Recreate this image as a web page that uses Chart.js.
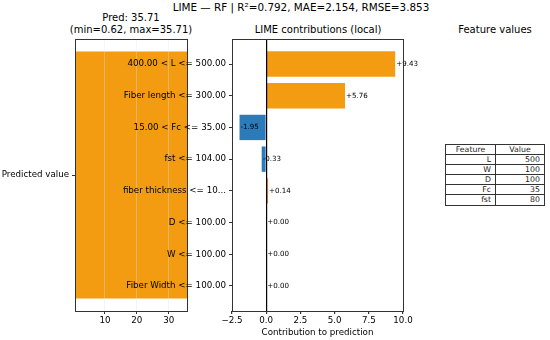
<!DOCTYPE html>
<html>
<head>
<meta charset="utf-8">
<script src="https://cdn.jsdelivr.net/npm/chart.js@4.4.1/dist/chart.umd.min.js"></script>
<style>
  html, body { margin: 0; padding: 0; background: #fff; }
  body { position: relative; width: 550px; height: 340px; overflow: hidden; font-family: "DejaVu Sans", sans-serif; color: #000; }
  canvas { position: absolute; top: 0; }
  .txt { position: absolute; white-space: nowrap; transform: translateX(-50%); line-height: 1; }
  #values { position: absolute; left: 445px; top: 144px; width: 99px; border-collapse: collapse; table-layout: fixed; font-size: 7.8px; color: #222; }
  #values td { border: 1px solid #333; padding: 0 4px 0 0; height: 9.1px; line-height: 1; text-align: right; }
  #values tr:first-child td { text-align: center; padding: 0; }
</style>
</head>
<body>
<div class="txt" id="mainTitle" style="left:301px; top:2px; font-size:10.4px;"></div>
<div class="txt" id="predTitle" style="left:131px; top:13px; font-size:10px;"></div>
<div class="txt" id="rangeTitle" style="left:131px; top:25px; font-size:10px;"></div>
<div class="txt" style="left:318px; top:25px; font-size:10px;">LIME contributions (local)</div>
<div class="txt" style="left:495px; top:25px; font-size:10px;">Feature values</div>

<canvas id="predChart" width="200" height="340" style="left:0px;"></canvas>
<canvas id="limeChart" width="330" height="340" style="left:100px;"></canvas>

<table id="values"></table>

<script>
// model metrics shown in the title
const r2 = 0.792;
const mae = 2.154;
const rmse = 3.853;

// left panel: predicted value
const predLabels = ['Predicted value'];
const predValues = [35.71];
const predMin = 0.62;
const predMax = 35.71;
const predTicks = [10, 20, 30];

// right panel: LIME contributions
const featureLabels = [
    '400.00 < L <= 500.00',
    'Fiber length <= 300.00',
    '15.00 < Fc <= 35.00',
    'fst <= 104.00',
    'fiber thickness <= 10...',
    'D <= 100.00',
    'W <= 100.00',
    'Fiber Width <= 100.00'
];
const contributions = [9.43, 5.76, -1.95, -0.33, 0.14, 0.00, 0.00, 0.00];
const contribTicks = [-2.5, 0, 2.5, 5, 7.5, 10];

// feature values table
const tableFeatures = ['L', 'W', 'D', 'Fc', 'fst'];
const tableValues = [500, 100, 100, 35, 80];

const ORANGE = '#f39c12';
const BLUE = '#2b7bba';
const SPINE = '#333';

Chart.defaults.font.family = '"DejaVu Sans", sans-serif';
Chart.defaults.color = '#000';

document.getElementById('mainTitle').textContent =
    'LIME \u2014 RF | R\u00b2=' + r2.toFixed(3) + ', MAE=' + mae.toFixed(3) + ', RMSE=' + rmse.toFixed(3);
document.getElementById('predTitle').textContent = 'Pred: ' + predValues[0].toFixed(2);
document.getElementById('rangeTitle').textContent =
    '(min=' + predMin.toFixed(2) + ', max=' + predMax.toFixed(2) + ')';

// table
const table = document.getElementById('values');
let html = '<colgroup><col style="width:50px"><col style="width:49px"></colgroup>';
html += '<tr><td>Feature</td><td>Value</td></tr>';
tableFeatures.forEach((f, i) => {
    html += '<tr><td>' + f + '</td><td>' + tableValues[i] + '</td></tr>';
});
table.innerHTML = html;

// draw all four spines on top
const frame = {
    id: 'frame',
    afterDraw(chart) {
        const { ctx, chartArea: a } = chart;
        ctx.save();
        ctx.strokeStyle = SPINE;
        ctx.lineWidth = 1;
        ctx.strokeRect(Math.round(a.left) + 0.5, Math.round(a.top) + 0.5,
            Math.round(a.right - a.left), Math.round(a.bottom - a.top));
        ctx.restore();
    }
};

const valueLabels = {
    id: 'valueLabels',
    afterDatasetsDraw(chart) {
        const { ctx, scales: { x, y } } = chart;
        ctx.save();
        ctx.font = '7.1px "DejaVu Sans"';
        ctx.fillStyle = '#000';
        ctx.textAlign = 'left';
        ctx.textBaseline = 'middle';
        contributions.forEach((v, i) => {
            const txt = (v >= 0 ? '+' : '') + v.toFixed(2);
            ctx.fillText(txt, x.getPixelForValue(v) + 1, y.getPixelForValue(i));
        });
        ctx.restore();
    }
};

const tickFont = { size: 8.7 };
const fmtMinus = (v) => String(v).replace('-', '\u2212');

new Chart(document.getElementById('predChart'), {
    type: 'bar',
    data: {
        datasets: [{
            data: predValues.map((v, i) => ({ x: v, y: i })),
            backgroundColor: ORANGE,
            borderWidth: 0,
            categoryPercentage: 1,
            barPercentage: 0.909
        }]
    },
    options: {
        indexAxis: 'y',
        responsive: false,
        animation: false,
        layout: { padding: { top: 39, right: 13, left: 0, bottom: 0 } },
        plugins: { legend: { display: false }, tooltip: { enabled: false } },
        scales: {
            x: {
                type: 'linear',
                bounds: 'data',
                min: predMin,
                max: predMax,
                afterBuildTicks: (s) => { s.ticks = predTicks.map(v => ({ value: v })); },
                afterFit: (s) => { s.height = 29; },
                ticks: { font: tickFont, padding: 2, maxRotation: 0 },
                grid: { color: 'rgba(225,225,225,0.35)', tickColor: SPINE, tickLength: 3, z: 1 },
                border: { display: false }
            },
            y: {
                type: 'linear',
                bounds: 'data',
                offset: false,
                min: -0.44,
                max: 0.44,
                reverse: true,
                afterBuildTicks: (s) => { s.ticks = predLabels.map((_, i) => ({ value: i })); },
                afterFit: (s) => { s.width = 75; },
                ticks: { font: tickFont, padding: 3, callback: (v) => predLabels[v] },
                grid: { offset: false, drawOnChartArea: false, tickColor: SPINE, tickLength: 3 },
                border: { display: false }
            }
        }
    },
    plugins: [frame]
});

new Chart(document.getElementById('limeChart'), {
    type: 'bar',
    data: {
        datasets: [{
            data: contributions.map((v, i) => ({ x: v, y: i })),
            backgroundColor: contributions.map(v => v < 0 ? BLUE : ORANGE),
            borderWidth: 0,
            categoryPercentage: 1,
            barPercentage: 0.8
        }]
    },
    options: {
        indexAxis: 'y',
        responsive: false,
        animation: false,
        layout: { padding: { top: 39, right: 27, left: 0, bottom: 0 } },
        plugins: { legend: { display: false }, tooltip: { enabled: false } },
        scales: {
            x: {
                type: 'linear',
                bounds: 'data',
                min: -2.5,
                max: 10,
                afterBuildTicks: (s) => { s.ticks = contribTicks.map(v => ({ value: v })); },
                afterFit: (s) => { s.height = 29; },
                ticks: { font: tickFont, padding: 2, maxRotation: 0, callback: (v) => fmtMinus(v.toFixed(1)) },
                grid: {
                    color: (c) => c.tick && c.tick.value === 0 ? '#000' : 'rgba(0,0,0,0)',
                    lineWidth: 1.2,
                    tickColor: SPINE,
                    tickLength: 3,
                    z: 1
                },
                border: { display: false },
                title: {
                    display: true,
                    text: 'Contribution to prediction',
                    font: { size: 8.7 },
                    padding: { top: 0, bottom: 2 }
                }
            },
            y: {
                type: 'linear',
                bounds: 'data',
                offset: false,
                min: -0.79,
                max: 7.79,
                reverse: true,
                afterBuildTicks: (s) => { s.ticks = featureLabels.map((_, i) => ({ value: i })); },
                afterFit: (s) => { s.width = 132; },
                ticks: { font: tickFont, padding: 3, callback: (v) => featureLabels[v] },
                grid: { offset: false, drawOnChartArea: false, tickColor: SPINE, tickLength: 3 },
                border: { display: false }
            }
        }
    },
    plugins: [valueLabels, frame]
});
</script>
</body>
</html>
